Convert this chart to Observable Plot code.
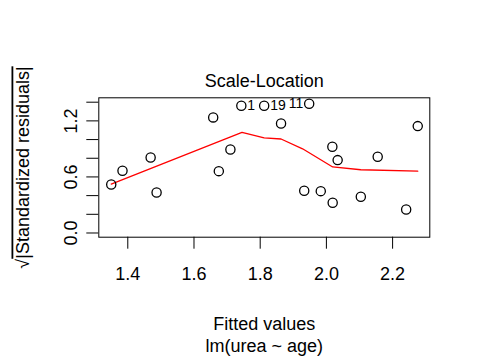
<!DOCTYPE html>
<html>
<head>
<meta charset="utf-8">
<script src="https://cdn.jsdelivr.net/npm/d3@7"></script>
<script src="https://cdn.jsdelivr.net/npm/@observablehq/plot@0.6"></script>
<style>
  html, body { margin: 0; padding: 0; background: white; }
</style>
</head>
<body>
<div id="chart"></div>
<script>
// Fitted values (x) and sqrt(|standardized residuals|) (y)
const fittedValues = [1.350, 1.384, 1.469, 1.487, 1.658, 1.675, 1.710, 1.743, 1.812, 1.863,
                      1.933, 1.948, 1.983, 2.018, 2.019, 2.034, 2.104, 2.155, 2.241, 2.276];
const sqrtStdResid = [0.519, 0.666, 0.808, 0.434, 1.237, 0.662, 0.894, 1.362, 1.362, 1.172,
                      0.452, 1.383, 0.448, 0.923, 0.323, 0.780, 0.388, 0.816, 0.252, 1.144];
// Observation ids labelled on the plot (index into arrays above, label text)
const idIndex = [7, 8, 11];
const idLabels = ["1", "19", "11"];
// Smoother (red line)
const smoothX = [1.350, 1.745, 1.812, 1.863, 1.928, 2.019, 2.104, 2.276];
const smoothY = [0.524, 1.076, 1.017, 1.006, 0.901, 0.707, 0.677, 0.662];
// Axis ticks
const xTicks = [1.4, 1.6, 1.8, 2.0, 2.2];
const yTicks = [0.0, 0.2, 0.4, 0.6, 0.8, 1.0, 1.2, 1.4];
const yTickLabels = [0.0, 0.6, 1.2];

const titleText = "Scale-Location";
const xLabel1 = "Fitted values";
const xLabel2 = "lm(urea ~ age)";
const yLabel = "√|Standardized residuals|";

const points = fittedValues.map((x, i) => ({x, y: sqrtStdResid[i]}));
const smooth = smoothX.map((x, i) => ({x, y: smoothY[i]}));
const ids = idIndex.map((i, k) => ({
  x: fittedValues[i], y: sqrtStdResid[i], label: idLabels[k],
  left: fittedValues[i] > (d3.min(fittedValues) + d3.max(fittedValues)) / 2
}));

const mL = 98.3, mR = 50.7, mT = 97.3, mB = 123.3;
const frameBottom = 360 - mB;

const chart = Plot.plot({
  width: 480,
  height: 360,
  marginLeft: mL,
  marginRight: mR,
  marginTop: mT,
  marginBottom: mB,
  x: {domain: [1.3124, 2.3124]},
  y: {domain: [-0.045, 1.447]},
  style: {fontFamily: "'Liberation Sans', Arial, sans-serif", fontSize: "18px", background: "white", color: "black"},
  marks: [
    Plot.frame({stroke: "black", strokeWidth: 1}),
    Plot.axisX({ticks: xTicks, tickSize: 12, tickPadding: 18.5, tickFormat: d3.format(".1f"), label: null, fontSize: 18, stroke: "black"}),
    Plot.axisY({ticks: yTicks, tickSize: 12, tickFormat: () => "", label: null, stroke: "black"}),
    Plot.text(yTickLabels, {y: d => d, frameAnchor: "left", text: d => d3.format(".1f")(d), rotate: -90,
      textAnchor: "middle", lineAnchor: "bottom", dx: -21.5, fontSize: 18, fill: "black"}),
    Plot.line(smooth, {x: "x", y: "y", stroke: "red", strokeWidth: 1.3}),
    Plot.dot(points, {x: "x", y: "y", r: 4.6, stroke: "black", strokeWidth: 1.3, fill: "none"}),
    Plot.text(ids.filter(d => !d.left), {x: "x", y: "y", text: "label", textAnchor: "start", dx: 6, fontSize: 14, fill: "black"}),
    Plot.text(ids.filter(d => d.left), {x: "x", y: "y", text: "label", textAnchor: "end", dx: -6, fontSize: 14, fill: "black"}),
    Plot.text([titleText], {frameAnchor: "top", lineAnchor: "bottom", dy: -10.6, fontSize: 18, fill: "black"}),
    Plot.text([xLabel1], {frameAnchor: "bottom", lineAnchor: "bottom", dy: 92.6, fontSize: 18, fill: "black"}),
    Plot.text([xLabel2], {frameAnchor: "bottom", lineAnchor: "bottom", dy: 114.3, fontSize: 18, fill: "black"}),
    Plot.text([yLabel], {frameAnchor: "left", rotate: -90, textAnchor: "middle", lineAnchor: "bottom",
      dx: 28 - mL, fontSize: 18, fill: "black", className: "ylab"})
  ]
});
document.getElementById("chart").appendChild(chart);

// overline (radical bar) over the content of the square root
const yl = chart.querySelector(".ylab text");
if (yl) {
  const txt = yl.textContent;
  yl.textContent = "";
  const ns = "http://www.w3.org/2000/svg";
  const t1 = document.createElementNS(ns, "tspan");
  t1.textContent = txt.slice(0, 1);
  const t2 = document.createElementNS(ns, "tspan");
  t2.textContent = txt.slice(1);
  t2.setAttribute("style", "text-decoration: overline;");
  yl.appendChild(t1);
  yl.appendChild(t2);
}
</script>
</body>
</html>
